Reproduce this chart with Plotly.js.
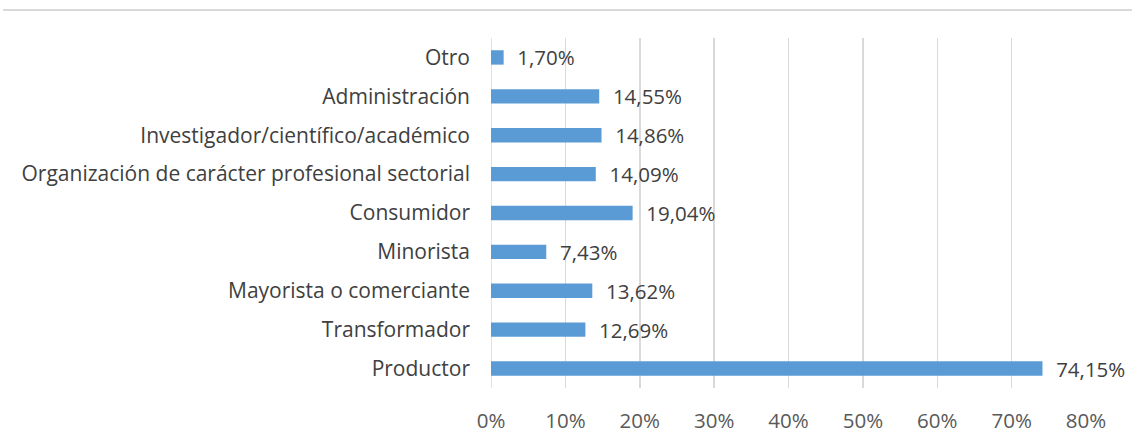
<!DOCTYPE html>
<html><head><meta charset="utf-8">
<script src="https://cdn.plot.ly/plotly-3.0.1.min.js"></script>
<style>html,body{margin:0;padding:0;background:#fff}#c{width:1132px;height:444px}</style>
</head><body><div id="c"></div>
<script>
const categories = ["Productor","Transformador","Mayorista o comerciante","Minorista","Consumidor","Organización de carácter profesional sectorial","Investigador/científico/académico","Administración","Otro"];
const values = [74.15,12.69,13.62,7.43,19.04,14.09,14.86,14.55,1.70];
const tickVals = [0,10,20,30,40,50,60,70,80];
const tickText = ["0%","10%","20%","30%","40%","50%","60%","70%","80%"];
const labels = values.map(v => '\u00a0\u00a0' + v.toFixed(2).replace('.', ',') + '%');

const font = "'Open Sans', sans-serif";
Plotly.newPlot('c', [{
  type:'bar', orientation:'h', y:categories, x:values,
  marker:{color:'#5B9BD5'},
  text:labels, textposition:'outside', cliponaxis:false, constraintext:'none',
  textfont:{family:font,size:20.5,color:'#404040'},
  hoverinfo:'none'
}], {
  width:1132, height:444,
  margin:{l:491,r:46,t:38,b:56},
  paper_bgcolor:'#fff', plot_bgcolor:'#fff',
  bargap:0.63,
  showlegend:false,
  xaxis:{range:[0,80], tickvals:tickVals, ticktext:tickText, showgrid:true, gridcolor:'#D9D9D9', gridwidth:1.5,
    zeroline:false, showline:false, ticks:'', ticklabelstandoff:18,
    tickfont:{family:font,size:20.5,color:'#595959'}, fixedrange:true},
  yaxis:{type:'category', showgrid:false, zeroline:false, showline:false, ticks:'', ticklabelstandoff:20,
    tickfont:{family:font,size:21,color:'#404040'}, automargin:false},
  shapes:[{type:'line', xref:'paper', yref:'paper', x0:-0.82, x1:1.08, y0:1.08, y1:1.08, line:{color:'#D9D9D9',width:2}},
          {type:'line', xref:'x', yref:'paper', x0:0, x1:0, y0:0, y1:1, line:{color:'#D9D9D9',width:1.5}, layer:'below'}]
}, {displayModeBar:false, staticPlot:true});
</script></body></html>
